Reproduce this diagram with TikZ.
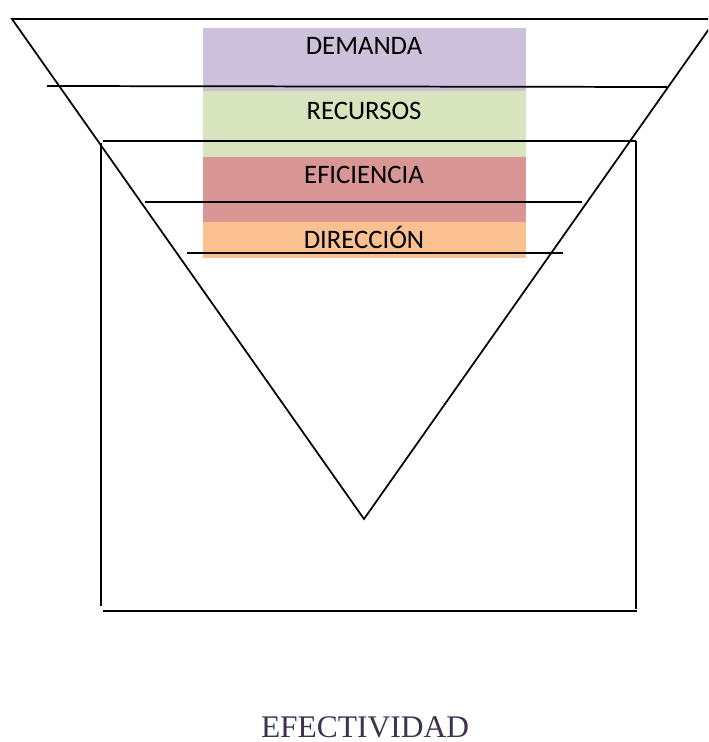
\documentclass[tikz,border=0pt]{standalone}
\usepackage{fontspec}
\setmainfont{Liberation Serif}
\newfontfamily\barfont{Carlito}
\definecolor{barpurple}{HTML}{CCC0DA}
\definecolor{bargreen}{HTML}{D7E4BD}
\definecolor{barred}{HTML}{D99694}
\definecolor{barorange}{HTML}{FAC090}
\definecolor{titlecol}{HTML}{3F3151}
\begin{document}
\begin{tikzpicture}[x=0.75pt,y=-0.75pt,
  lbl/.style={font=\barfont\fontsize{20}{24}\selectfont, anchor=base, inner sep=0pt, text=black},
  ttl/.style={font=\fontsize{23.6}{28}\selectfont, anchor=base, inner sep=0pt, text=titlecol},
  ln/.style={line width=1.3pt, draw=black}]
\useasboundingbox (0,0) rectangle (708,742);
\clip (0,0) rectangle (708,742);
% colour bars
\fill[barpurple] (203,28) rectangle (526,91);
\fill[bargreen] (203,91) rectangle (526,157);
\fill[barred] (203,157) rectangle (526,222);
\fill[barorange] (203,222) rectangle (526,258);
% labels
\node[lbl] (demanda) at (364,55) {DEMANDA};
\node[lbl] (recursos) at (364,119) {RECURSOS};
\node[lbl] (eficiencia) at (364,183) {EFICIENCIA};
\node[lbl] (direccion) at (364,248) {DIRECCIÓN};
% funnel
\coordinate (tl) at (12,19);
\coordinate (tr) at (716,19);
\coordinate (apex) at (364,519);
\draw[ln, line join=miter] (tl) -- (tr) -- (apex) -- cycle;
% horizontal lines
\coordinate (h1a) at (47,86);  \coordinate (h1b) at (667,87);
\coordinate (h2a) at (103,141); \coordinate (h2b) at (636,141);
\coordinate (h3a) at (145,202); \coordinate (h3b) at (582,202);
\coordinate (h4a) at (187,253); \coordinate (h4b) at (563,253);
\draw[ln] (h1a) -- (h1b);
\draw[ln] (h2a) -- (h2b);
\draw[ln] (h3a) -- (h3b);
\draw[ln] (h4a) -- (h4b);
% box
\coordinate (bl1) at (101,143); \coordinate (bl2) at (101,606);
\coordinate (br1) at (636,141); \coordinate (br2) at (636,609);
\coordinate (bb1) at (103,611); \coordinate (bb2) at (637,611);
\draw[ln] (bl1) -- (bl2);
\draw[ln] (br1) -- (br2);
\draw[ln] (bb1) -- (bb2);
% title
\node[ttl] (efectividad) at (365,737) {EFECTIVIDAD};
\end{tikzpicture}
\end{document}
